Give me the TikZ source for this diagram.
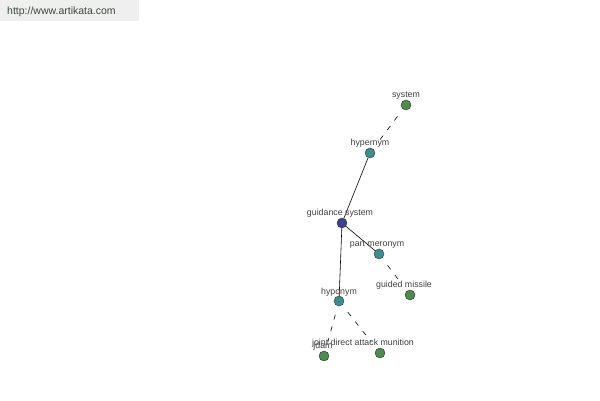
\documentclass[tikz,border=0pt]{standalone}
\usepackage{fontspec}
\setmainfont{Liberation Sans}
\definecolor{leafgreen}{HTML}{4E8B4E}
\definecolor{relteal}{HTML}{3F8C8C}
\definecolor{rootblue}{HTML}{404090}
\definecolor{urlgray}{HTML}{EFEFEF}
\definecolor{urltext}{HTML}{3A4A3A}
\tikzset{
  dot/.style={circle,draw=black!80,line width=0.4pt,inner sep=0pt,minimum size=10pt},
  lbl/.style={font=\fontsize{8.8}{9}\selectfont,text=black!75,inner sep=0pt},
  rel/.style={line width=0.6pt},
  far/.style={line width=0.6pt,dash pattern=on 5pt off 7pt,shorten <=9pt,shorten >=9pt}
}

\begin{document}
\begin{tikzpicture}[x=1pt,y=-1pt]
   \useasboundingbox (0,0) rectangle (600,400);
   \fill[white] (0,0) rectangle (600,400);
   \fill[urlgray] (0,0) rectangle (139,21);
   \node[font=\fontsize{10.5}{11}\selectfont,text=urltext,anchor=west,inner sep=0pt] (url) at (7,11.5) {http://www.artikata.com};
   % word nodes
   \node[dot,fill=leafgreen]  (system)   at (406,105) {};
   \node[dot,fill=relteal]    (hyper)    at (370,153) {};
   \node[dot,fill=rootblue]   (guidance) at (342,223) {};
   \node[dot,fill=relteal]    (partmero) at (379,254) {};
   \node[dot,fill=leafgreen]  (missile)  at (410,295) {};
   \node[dot,fill=relteal]    (hypo)     at (339,301) {};
   \node[dot,fill=leafgreen]  (jdam)     at (324,356) {};
   \node[dot,fill=leafgreen]  (jdamlong) at (380,353) {};
   % links
   \draw[far] (system) -- (hyper);
   \draw[rel] (hyper) -- (guidance);
   \draw[rel] (guidance) -- (partmero);
   \draw[rel] (guidance) -- (hypo);
   \draw[far] (partmero) -- (missile);
   \draw[far] (hypo) -- (jdam);
   \draw[far] (hypo) -- (jdamlong);
   % labels
   \node[lbl] (system-l)   at (406,95.5)  {system};
   \node[lbl] (hyper-l)    at (370,143.5) {hypernym};
   \node[lbl] (guidance-l) at (340,213.5) {guidance system};
   \node[lbl] (partmero-l) at (377,244.5) {part meronym};
   \node[lbl] (missile-l)  at (404,285.5) {guided missile};
   \node[lbl] (hypo-l)     at (339,292.5) {hyponym};
   \node[lbl] (jdam-l)     at (323,346.5) {jdam};
   \node[lbl] (jdamlong-l) at (363,343.5) {joint direct attack munition};
\end{tikzpicture}
\end{document}
